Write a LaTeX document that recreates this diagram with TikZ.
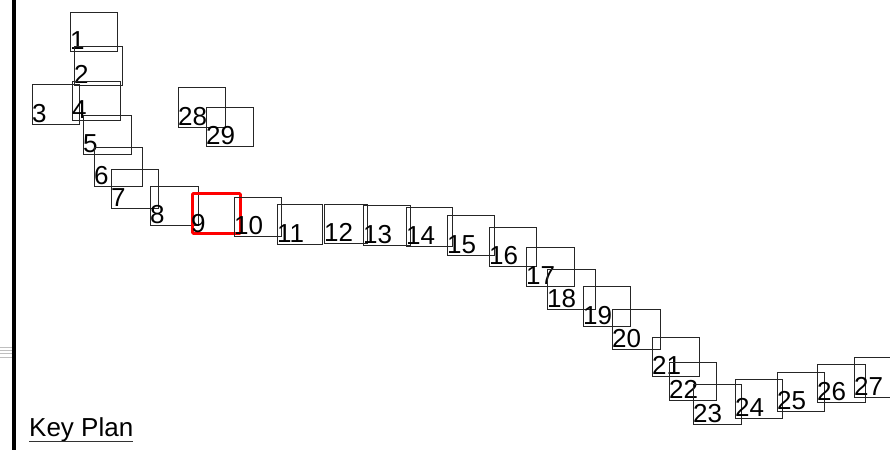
\documentclass[tikz,border=0pt]{standalone}
\usepackage{fontspec}
\setmainfont{Liberation Sans}
\tikzset{
  num/.style={anchor=base west, inner sep=0pt, yshift=2.5pt,
    font=\fontsize{26}{30}\selectfont},
  keybox/.style={draw=black!85, line width=1.2pt, inner sep=0pt,
    minimum width=47pt, minimum height=39pt, anchor=north west,
    label={[num]south west:#1}},
  current/.style={draw=red, line width=2.8pt, rounded corners=1pt}
}
\begin{document}
\begin{tikzpicture}[x=1pt,y=-1pt]
  \useasboundingbox (0,0) rectangle (890,450);
  % frame edge and stray marks
  \coordinate (edgetop) at (14,0);
  \coordinate (edgebot) at (14,450);
  \draw[line width=4pt] (edgetop) -- (edgebot);
  \foreach \y in {347,350,353,357}
    \draw[gray!50, line width=0.8pt] (0,\y) -- (12,\y);
  % key plan boxes
  \node[keybox=1] (k1) at (70,12) {};
  \node[keybox=2, minimum width=48pt] (k2) at (74,46) {};
  \node[keybox=3, minimum height=40pt] (k3) at (32,84) {};
  \node[keybox=4, minimum width=48pt] (k4) at (72,81) {};
  \node[keybox=5, minimum width=48pt] (k5) at (83,115) {};
  \node[keybox=6, minimum width=48pt] (k6) at (94,147) {};
  \node[keybox=7] (k7) at (111,169) {};
  \node[keybox=8, minimum width=48pt] (k8) at (150,186) {};
  \node[keybox=9, current, minimum width=48pt, minimum height=40pt] (k9) at (191,192) {};
  \node[keybox=10] (k10) at (234,197) {};
  \node[keybox=11, minimum width=45pt, minimum height=40pt] (k11) at (277,204) {};
  \node[keybox=12, minimum width=43pt] (k12) at (324,204) {};
  \node[keybox=13, minimum height=40pt] (k13) at (363,205) {};
  \node[keybox=14, minimum width=46pt] (k14) at (406,207) {};
  \node[keybox=15, minimum height=40pt] (k15) at (447,215) {};
  \node[keybox=16] (k16) at (489,227) {};
  \node[keybox=17, minimum width=48pt] (k17) at (526,247) {};
  \node[keybox=18, minimum width=48pt, minimum height=40pt] (k18) at (547,269) {};
  \node[keybox=19, minimum height=40pt] (k19) at (583,286) {};
  \node[keybox=20, minimum width=48pt, minimum height=40pt] (k20) at (612,309) {};
  \node[keybox=21] (k21) at (652,337) {};
  \node[keybox=22, minimum height=38pt] (k22) at (669,362) {};
  \node[keybox=23, minimum width=48pt, minimum height=40pt] (k23) at (693,384) {};
  \node[keybox=24] (k24) at (735,379) {};
  \node[keybox=25] (k25) at (777,372) {};
  \node[keybox=26, minimum width=48pt, minimum height=38pt] (k26) at (817,364) {};
  \node[keybox=27, minimum height=40pt] (k27) at (854,357) {};
  \node[keybox=28, minimum height=40pt] (k28) at (178,87) {};
  \node[keybox=29] (k29) at (206,107) {};
  % title
  \node[num, yshift=0pt] (keyplan) at (29,439) {Key Plan};
  \draw[black!80, line width=1.4pt] ([yshift=-5pt]keyplan.base west) -- ([yshift=-5pt]keyplan.base east);
\end{tikzpicture}
\end{document}
